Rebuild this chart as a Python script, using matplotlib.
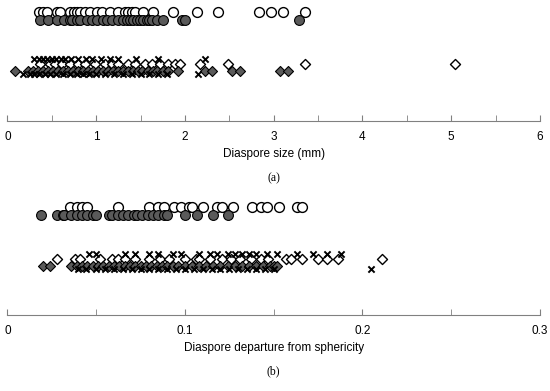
import matplotlib
matplotlib.use("Agg")
import matplotlib.pyplot as plt
from matplotlib.ticker import MultipleLocator, FuncFormatter

# panel (a): diaspore size (mm)
size_open_circles = [0.36, 0.40, 0.45, 0.56, 0.59, 0.70, 0.75, 0.78, 0.82, 0.87, 0.93, 1.01, 1.06,
                     1.15, 1.25, 1.32, 1.36, 1.40, 1.44, 1.53, 1.64, 1.86, 2.13, 2.37, 2.83, 2.97,
                     3.10, 3.35]
size_filled_circles = [0.37, 0.46, 0.56, 0.64, 0.70, 0.73, 0.78, 0.82, 0.90, 0.95, 1.01, 1.08, 1.12,
                       1.18, 1.24, 1.30, 1.35, 1.38, 1.41, 1.46, 1.49, 1.53, 1.57, 1.60, 1.63, 1.68,
                       1.75, 1.97, 2.00, 3.29]
size_open_diamonds = [0.37, 0.48, 0.53, 0.61, 0.70, 0.79, 0.87, 0.99, 1.10, 1.18, 1.24, 1.36, 1.44,
                      1.55, 1.63, 1.72, 1.81, 1.89, 1.94, 2.17, 2.48, 3.35, 5.04]
size_filled_diamonds = [0.08, 0.23, 0.29, 0.34, 0.40, 0.46, 0.51, 0.57, 0.63, 0.68, 0.74, 0.79, 0.85,
                        0.91, 0.96, 1.02, 1.08, 1.13, 1.19, 1.24, 1.30, 1.36, 1.41, 1.47, 1.52, 1.58,
                        1.64, 1.69, 1.75, 1.81, 1.92, 2.22, 2.30, 2.53, 2.62, 3.07, 3.16]
size_cross_upper = [0.30, 0.35, 0.40, 0.45, 0.50, 0.55, 0.60, 0.65, 0.72, 0.80, 0.88, 0.95, 1.05,
                    1.15, 1.25, 1.45, 1.70, 2.22]
size_cross_lower = [0.18, 0.25, 0.30, 0.36, 0.42, 0.48, 0.55, 0.62, 0.70, 0.78, 0.85, 0.92, 1.00,
                    1.10, 1.20, 1.30, 1.40, 1.50, 1.60, 1.70, 1.80, 2.15]

# panel (b): departure from sphericity
sph_open_circles = [0.035, 0.039, 0.042, 0.045, 0.062, 0.080, 0.085, 0.088, 0.094, 0.098, 0.102,
                    0.104, 0.110, 0.118, 0.121, 0.127, 0.138, 0.143, 0.146, 0.153, 0.163, 0.166]
sph_filled_circles = [0.019, 0.028, 0.031, 0.032, 0.036, 0.039, 0.042, 0.045, 0.048, 0.050, 0.057,
                      0.059, 0.062, 0.065, 0.068, 0.071, 0.073, 0.076, 0.079, 0.082, 0.085, 0.088,
                      0.090, 0.100, 0.107, 0.116, 0.124]
sph_open_diamonds = [0.028, 0.038, 0.041, 0.052, 0.059, 0.062, 0.066, 0.072, 0.080, 0.086, 0.091,
                     0.100, 0.106, 0.108, 0.114, 0.121, 0.126, 0.131, 0.137, 0.143, 0.147, 0.157,
                     0.160, 0.166, 0.175, 0.180, 0.186, 0.211]
sph_filled_diamonds = [0.020, 0.024, 0.036, 0.039, 0.042, 0.045, 0.048, 0.051, 0.054, 0.057, 0.060,
                       0.063, 0.066, 0.069, 0.072, 0.075, 0.078, 0.081, 0.084, 0.087, 0.090, 0.093,
                       0.096, 0.100, 0.104, 0.108, 0.112, 0.116, 0.120, 0.124, 0.128, 0.132, 0.136,
                       0.140, 0.144, 0.148, 0.150, 0.152]
sph_cross_upper = [0.046, 0.050, 0.066, 0.072, 0.080, 0.085, 0.093, 0.098, 0.108, 0.114, 0.118,
                   0.124, 0.128, 0.132, 0.136, 0.140, 0.146, 0.152, 0.163, 0.172, 0.180, 0.188]
sph_cross_lower = [0.040, 0.044, 0.050, 0.055, 0.060, 0.065, 0.070, 0.075, 0.080, 0.085, 0.090,
                   0.095, 0.100, 0.105, 0.110, 0.115, 0.120, 0.125, 0.130, 0.135, 0.140, 0.145,
                   0.150, 0.205]


def draw_panel(ax, oc, fc, od, fd, cu, cl, xmax, major, minor, label, tag):
    kw_open = dict(facecolor="white", edgecolor="black", linewidths=1.0, zorder=3)
    kw_fill = dict(facecolor="#5a5a5a", edgecolor="black", linewidths=0.8, zorder=3)
    ax.scatter(oc, [109] * len(oc), s=50, marker="o", **kw_open)
    ax.scatter(fc, [101] * len(fc), s=50, marker="o", **kw_fill)
    ax.scatter(od, [57] * len(od), s=26, marker="D", **kw_open)
    ax.scatter(fd, [50] * len(fd), s=26, marker="D", **kw_fill)
    ax.scatter(cu, [62] * len(cu), s=20, marker="x", color="black", linewidths=1.4, zorder=4)
    ax.scatter(cl, [47] * len(cl), s=20, marker="x", color="black", linewidths=1.4, zorder=4)

    ax.set_xlim(0, xmax)
    ax.set_ylim(0, 116)
    for s in ["top", "right", "left"]:
        ax.spines[s].set_visible(False)
    ax.spines["bottom"].set_color("#808080")
    ax.set_yticks([])
    ax.xaxis.set_major_locator(MultipleLocator(major))
    ax.xaxis.set_minor_locator(MultipleLocator(minor))
    ax.xaxis.set_major_formatter(FuncFormatter(lambda v, p: "%g" % round(v, 6)))
    ax.tick_params(axis="x", which="both", direction="in", length=4, color="#808080",
                   labelsize=8.5, pad=7)
    for t in ax.get_xticklabels():
        t.set_fontfamily("Liberation Sans")
    ax.set_xlabel(label, fontsize=8.5, fontfamily="Liberation Sans", labelpad=4)
    ax.text(0.5, -0.49, tag, transform=ax.transAxes, ha="center", va="center",
            fontsize=8.5, fontfamily="Liberation Serif")


fig = plt.figure(figsize=(5.5, 3.91), dpi=100)
ax1 = fig.add_axes([0.0136, 0.6905, 0.9682, 0.297])
ax2 = fig.add_axes([0.0136, 0.194, 0.9682, 0.294])

draw_panel(ax1, size_open_circles, size_filled_circles, size_open_diamonds, size_filled_diamonds,
           size_cross_upper, size_cross_lower, 6, 1, 0.5, "Diaspore size (mm)", "(a)")
draw_panel(ax2, sph_open_circles, sph_filled_circles, sph_open_diamonds, sph_filled_diamonds,
           sph_cross_upper, sph_cross_lower, 0.3, 0.1, 0.05,
           "Diaspore departure from sphericity", "(b)")

fig.savefig("out.png", dpi=100)
